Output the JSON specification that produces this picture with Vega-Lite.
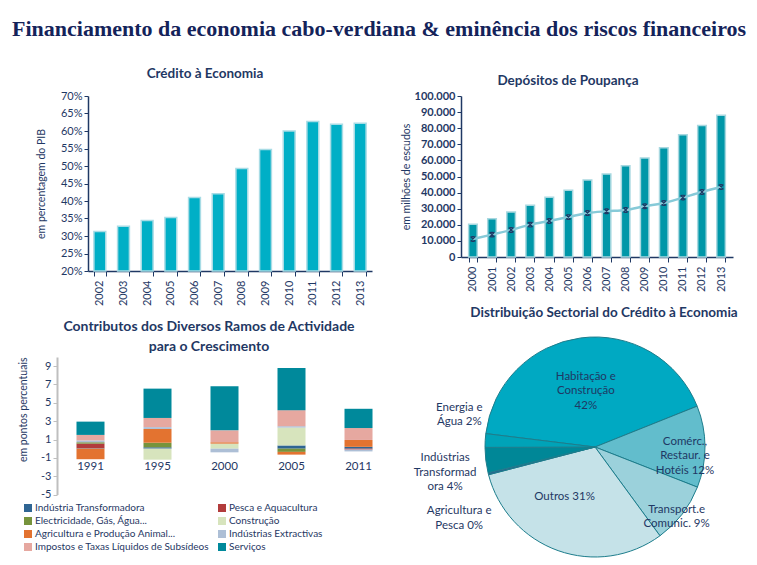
{
  "$schema": "https://vega.github.io/schema/vega-lite/v6.json",
  "background": "white",
  "padding": {"left": 12, "top": 17, "right": 0, "bottom": 0},
  "title": {"text": "Financiamento da economia cabo-verdiana & eminência dos riscos financeiros", "font": "Liberation Serif", "fontSize": 22, "fontWeight": "bold", "color": "#14235a", "anchor": "middle", "offset": 26, "dx": 1},
  "datasets": {
    "credito": [
      {"ano": "2002", "pct": 31.3}, {"ano": "2003", "pct": 32.8}, {"ano": "2004", "pct": 34.4},
      {"ano": "2005", "pct": 35.3}, {"ano": "2006", "pct": 41.0}, {"ano": "2007", "pct": 42.1},
      {"ano": "2008", "pct": 49.3}, {"ano": "2009", "pct": 54.7}, {"ano": "2010", "pct": 60.0},
      {"ano": "2011", "pct": 62.7}, {"ano": "2012", "pct": 61.9}, {"ano": "2013", "pct": 62.2}
    ],
    "depositos": [
      {"ano": "2000", "depositos": 20300, "serie": 11200},
      {"ano": "2001", "depositos": 23800, "serie": 13900},
      {"ano": "2002", "depositos": 27900, "serie": 16800},
      {"ano": "2003", "depositos": 32100, "serie": 20100},
      {"ano": "2004", "depositos": 37100, "serie": 22400},
      {"ano": "2005", "depositos": 41400, "serie": 24800},
      {"ano": "2006", "depositos": 47800, "serie": 27300},
      {"ano": "2007", "depositos": 51500, "serie": 28400},
      {"ano": "2008", "depositos": 56700, "serie": 29200},
      {"ano": "2009", "depositos": 61500, "serie": 31500},
      {"ano": "2010", "depositos": 67900, "serie": 33500},
      {"ano": "2011", "depositos": 76000, "serie": 36900},
      {"ano": "2012", "depositos": 81600, "serie": 40400},
      {"ano": "2013", "depositos": 88000, "serie": 43500}
    ],
    "contrib": [
      {"ano": "1991", "ramo": "Indústria Transformadora", "ordem": 1, "valor": 0.05},
      {"ano": "1991", "ramo": "Pesca e Aquacultura", "ordem": 2, "valor": 0.5},
      {"ano": "1991", "ramo": "Electricidade, Gás, Água...", "ordem": 3, "valor": 0.15},
      {"ano": "1991", "ramo": "Construção", "ordem": 4, "valor": 0.0},
      {"ano": "1991", "ramo": "Agricultura e Produção Animal...", "ordem": 5, "valor": -1.15},
      {"ano": "1991", "ramo": "Indústrias Extractivas", "ordem": 6, "valor": 0.2},
      {"ano": "1991", "ramo": "Impostos e Taxas Líquidos de Subsídeos", "ordem": 7, "valor": 0.6},
      {"ano": "1991", "ramo": "Serviços", "ordem": 8, "valor": 1.45},
      {"ano": "1995", "ramo": "Indústria Transformadora", "ordem": 1, "valor": 0.15},
      {"ano": "1995", "ramo": "Pesca e Aquacultura", "ordem": 2, "valor": 0.0},
      {"ano": "1995", "ramo": "Electricidade, Gás, Água...", "ordem": 3, "valor": 0.5},
      {"ano": "1995", "ramo": "Construção", "ordem": 4, "valor": -1.2},
      {"ano": "1995", "ramo": "Agricultura e Produção Animal...", "ordem": 5, "valor": 1.5},
      {"ano": "1995", "ramo": "Indústrias Extractivas", "ordem": 6, "valor": 0.2},
      {"ano": "1995", "ramo": "Impostos e Taxas Líquidos de Subsídeos", "ordem": 7, "valor": 1.0},
      {"ano": "1995", "ramo": "Serviços", "ordem": 8, "valor": 3.2},
      {"ano": "2000", "ramo": "Indústria Transformadora", "ordem": 1, "valor": 0.0},
      {"ano": "2000", "ramo": "Pesca e Aquacultura", "ordem": 2, "valor": 0.0},
      {"ano": "2000", "ramo": "Electricidade, Gás, Água...", "ordem": 3, "valor": 0.0},
      {"ano": "2000", "ramo": "Construção", "ordem": 4, "valor": 0.55},
      {"ano": "2000", "ramo": "Agricultura e Produção Animal...", "ordem": 5, "valor": 0.15},
      {"ano": "2000", "ramo": "Indústrias Extractivas", "ordem": 6, "valor": -0.4},
      {"ano": "2000", "ramo": "Impostos e Taxas Líquidos de Subsídeos", "ordem": 7, "valor": 1.3},
      {"ano": "2000", "ramo": "Serviços", "ordem": 8, "valor": 4.8},
      {"ano": "2005", "ramo": "Indústria Transformadora", "ordem": 1, "valor": 0.35},
      {"ano": "2005", "ramo": "Pesca e Aquacultura", "ordem": 2, "valor": 0.0},
      {"ano": "2005", "ramo": "Electricidade, Gás, Água...", "ordem": 3, "valor": -0.35},
      {"ano": "2005", "ramo": "Construção", "ordem": 4, "valor": 1.95},
      {"ano": "2005", "ramo": "Agricultura e Produção Animal...", "ordem": 5, "valor": -0.3},
      {"ano": "2005", "ramo": "Indústrias Extractivas", "ordem": 6, "valor": 0.15},
      {"ano": "2005", "ramo": "Impostos e Taxas Líquidos de Subsídeos", "ordem": 7, "valor": 1.75},
      {"ano": "2005", "ramo": "Serviços", "ordem": 8, "valor": 4.6},
      {"ano": "2011", "ramo": "Indústria Transformadora", "ordem": 1, "valor": 0.2},
      {"ano": "2011", "ramo": "Pesca e Aquacultura", "ordem": 2, "valor": -0.1},
      {"ano": "2011", "ramo": "Electricidade, Gás, Água...", "ordem": 3, "valor": 0.0},
      {"ano": "2011", "ramo": "Construção", "ordem": 4, "valor": 0.0},
      {"ano": "2011", "ramo": "Agricultura e Produção Animal...", "ordem": 5, "valor": 0.75},
      {"ano": "2011", "ramo": "Indústrias Extractivas", "ordem": 6, "valor": -0.2},
      {"ano": "2011", "ramo": "Impostos e Taxas Líquidos de Subsídeos", "ordem": 7, "valor": 1.3},
      {"ano": "2011", "ramo": "Serviços", "ordem": 8, "valor": 2.1}
    ],
    "pie": [
      {"sector": "Habitação e Construção", "rotulo": "Habitação e\nConstrução\n42%", "ordem": 1, "pct": 42},
      {"sector": "Comércio, Restaur. e Hotéis", "rotulo": "Comérc.,\nRestaur. e\nHotéis 12%", "ordem": 2, "pct": 12},
      {"sector": "Transport. e Comunic.", "rotulo": "Transport.e\nComunic. 9%", "ordem": 3, "pct": 9},
      {"sector": "Outros", "rotulo": "Outros 31%", "ordem": 4, "pct": 31},
      {"sector": "Agricultura e Pesca", "rotulo": "Agricultura e\nPesca 0%", "ordem": 5, "pct": 0.3},
      {"sector": "Indústrias Transformadora", "rotulo": "Indústrias\nTransformad\nora 4%", "ordem": 6, "pct": 3.7},
      {"sector": "Energia e Água", "rotulo": "Energia e\nÁgua 2%", "ordem": 7, "pct": 2.0}
    ]
  },
  "columns": 2,
  "align": "each",
  "bounds": "flush",
  "center": {"column": true, "row": false},
  "spacing": {"row": 86, "column": 58},
  "resolve": {"scale": {"x": "independent", "y": "independent", "color": "independent", "theta": "independent"}, "legend": {"color": "independent"}},
  "concat": [
    {
      "width": 284, "height": 175,
      "title": {"text": "Crédito à Economia", "dx": -25, "offset": 10, "frame": "group"},
      "data": {"name": "credito"},
      "mark": {"type": "bar", "color": "#00afc6", "stroke": "#a8dce5", "strokeWidth": 1.5},
      "encoding": {
        "x": {"field": "ano", "type": "ordinal", "scale": {"paddingInner": 0.5, "paddingOuter": 0.25},
              "axis": {"title": null, "labelAngle": -90, "labelAlign": "right", "labelBaseline": "middle", "tickBand": "extent", "tickSize": 5, "domainColor": "#1f3864", "domainWidth": 1.5, "tickColor": "#1f3864", "labelPadding": 4, "labelFontSize": 11}},
        "y": {"field": "pct", "type": "quantitative", "scale": {"domain": [20, 70], "nice": false},
              "axis": {"values": [20, 25, 30, 35, 40, 45, 50, 55, 60, 65, 70], "labelExpr": "datum.value + '%'", "labelOverlap": false, "domainColor": "#1f3864", "domainWidth": 1.5, "tickColor": "#1f3864", "tickSize": 4, "labelPadding": 2, "title": "em percentagem  do PIB", "titlePadding": 14}},
        "y2": {"datum": 20}
      }
    },
    {
      "width": 272, "height": 161,
      "title": {"text": "Depósitos de Poupança", "dx": -29, "offset": 3, "frame": "group"},
      "data": {"name": "depositos"},
      "resolve": {"axis": {"y": "independent"}},
      "encoding": {
        "x": {"field": "ano", "type": "ordinal", "scale": {"paddingInner": 0.55, "paddingOuter": 0.4},
              "axis": {"title": null, "labelAngle": -90, "labelAlign": "right", "labelBaseline": "middle", "tickBand": "extent", "tickSize": 5, "domainColor": "#1f3864", "domainWidth": 1.5, "tickColor": "#1f3864", "labelPadding": 4, "labelFontSize": 11}}
      },
      "layer": [
        {
          "mark": {"type": "bar", "color": "#0097a8", "stroke": "#a8d8e0", "strokeWidth": 1.5},
          "encoding": {
            "y": {"field": "depositos", "type": "quantitative", "scale": {"domain": [0, 100000], "nice": false},
                  "axis": {"values": [0, 10000, 20000, 30000, 40000, 50000, 60000, 70000, 80000, 90000, 100000], "labelExpr": "replace(format(datum.value, ','), ',', '.')", "labelOverlap": false, "labelFontWeight": "bold", "domainColor": "#1f3864", "domainWidth": 1.5, "tickColor": "#1f3864", "tickSize": 4, "labelPadding": 2, "title": "em milhões de escudos", "titlePadding": 3}}
          }
        },
        {
          "mark": {"type": "line", "color": "#86cad8", "strokeWidth": 2.5, "interpolate": "monotone"},
          "encoding": {"y": {"field": "serie", "type": "quantitative", "axis": null}}
        },
        {
          "mark": {"type": "point", "shape": "M-1,-1L1,1M-1,1L1,-1M-0.6,-1L0.6,-1M-0.6,1L0.6,1", "filled": false, "stroke": "#1f3864", "strokeWidth": 1.2, "size": 22, "opacity": 1},
          "encoding": {"y": {"field": "serie", "type": "quantitative", "axis": null}}
        }
      ]
    },
    {
      "width": 346, "height": 137.5,
      "title": {"text": ["Contributos  dos Diversos Ramos de Actividade", "para o Crescimento"], "dx": -21, "offset": 3, "lineHeight": 20, "fontSize": 14, "frame": "group"},
      "data": {"name": "contrib"},
      "resolve": {"axis": {"y": "independent"}},
      "encoding": {
        "x": {"field": "ano", "type": "nominal", "scale": {"paddingInner": 0.582, "paddingOuter": 0.373, "align": 0.39}, "axis": null}
      },
      "layer": [
        {
          "mark": {"type": "bar"},
          "encoding": {
            "y": {"field": "valor", "type": "quantitative", "stack": "zero", "scale": {"domain": [-5, 10], "nice": false},
                  "axis": {"values": [-5, -3, -1, 1, 3, 5, 7, 9], "labelExpr": "'' + datum.value", "labelOverlap": false, "domainColor": "#bfbfbf", "domainWidth": 2, "tickColor": "#bfbfbf", "tickSize": 4, "labelPadding": 2, "title": "em pontos  percentuais", "titleAnchor": "end", "titlePadding": 12}},
            "color": {"field": "ramo", "type": "nominal",
                      "scale": {"domain": ["Indústria Transformadora", "Pesca e Aquacultura", "Electricidade, Gás, Água...", "Construção", "Agricultura e Produção Animal...", "Indústrias Extractivas", "Impostos e Taxas Líquidos de Subsídeos", "Serviços"],
                                "range": ["#2f6593", "#b23c3c", "#76933c", "#d7e4bd", "#e37330", "#adbfd6", "#e6a8a0", "#00899b"]},
                      "legend": {"orient": "none", "legendX": -34, "legendY": 146, "direction": "horizontal", "columns": 2, "title": null, "symbolType": "square", "symbolSize": 64, "symbolStrokeWidth": 0, "labelOffset": 2, "labelFontSize": 10, "labelColor": "#1f3864", "labelLimit": 300, "rowPadding": 3, "columnPadding": 8}},
            "order": {"field": "ordem", "type": "quantitative"}
          }
        },
        {
          "mark": {"type": "rule", "color": "#bfbfbf", "strokeWidth": 2.5},
          "encoding": {"y": {"datum": 0, "axis": null}}
        },
        {
          "transform": [{"aggregate": [{"op": "count", "as": "n"}], "groupby": ["ano"]}],
          "mark": {"type": "text", "fontSize": 11.5, "color": "#1f3864", "baseline": "middle"},
          "encoding": {"y": {"datum": -2, "axis": null}, "text": {"field": "ano"}}
        }
      ]
    },
    {
      "width": 268, "height": 180,
      "title": {"text": "Distribuição Sectorial do Crédito à Economia", "dx": 9, "offset": 16},
      "data": {"name": "pie"},
      "encoding": {
        "theta": {"field": "pct", "type": "quantitative", "stack": true, "scale": {"range": [-1.4486, 4.8346]}},
        "order": {"field": "ordem", "type": "quantitative"}
      },
      "layer": [
        {
          "mark": {"type": "arc", "outerRadius": 110, "stroke": "#1d7d8c", "strokeWidth": 1},
          "encoding": {
            "color": {"field": "sector", "type": "nominal", "legend": null,
                      "scale": {"domain": ["Habitação e Construção", "Comércio, Restaur. e Hotéis", "Transport. e Comunic.", "Outros", "Agricultura e Pesca", "Indústrias Transformadora", "Energia e Água"],
                                "range": ["#00a9c2", "#62bdcc", "#9bd1db", "#c5e2e8", "#2b6591", "#008797", "#00a3b8"]}}
          }
        },
        {
          "mark": {"type": "text", "lineBreak": "\n", "lineHeight": 14.5, "fontSize": 11.5, "fill": "#1f3864",
                   "radius": {"expr": "[0, 71, 90, 103, 58, 140, 151, 136][datum.ordem]"},
                   "dx": {"expr": "datum.ordem == 4 ? -11 : 0"},
                   "dy": {"expr": "[0, 0, -5, 0, -5, 30, -7, -31][datum.ordem]"}},
          "encoding": {"text": {"field": "rotulo"}}
        }
      ]
    }
  ],
  "config": {
    "font": "Lato",
    "view": {"stroke": null},
    "axis": {"labelColor": "#1f3864", "titleColor": "#1f3864", "labelFont": "Lato", "titleFont": "Lato", "grid": false, "labelFontSize": 11, "titleFontSize": 10.5, "titleFontWeight": "normal", "labelOverlap": false},
    "title": {"color": "#1f3864", "font": "Lato", "fontSize": 13.5, "fontWeight": "bold", "anchor": "middle"},
    "legend": {"labelFont": "Lato"}
  }
}
